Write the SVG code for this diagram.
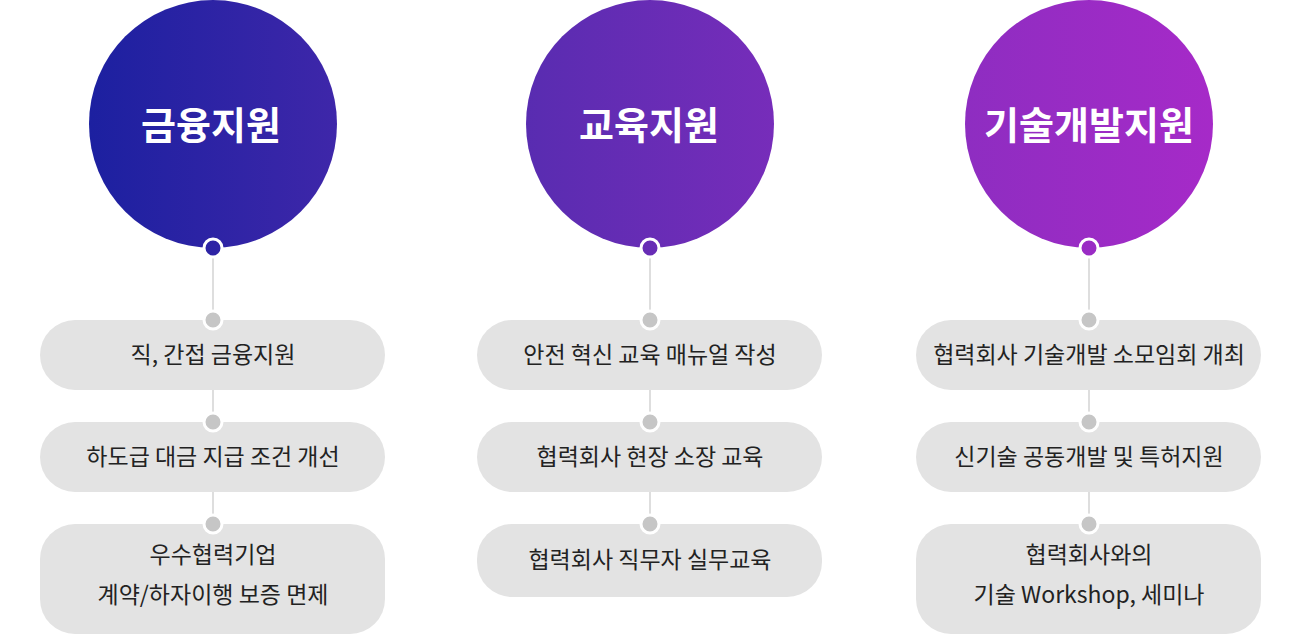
<svg xmlns="http://www.w3.org/2000/svg" width="1300" height="635" viewBox="0 0 1300 635">
<defs>
<linearGradient id="g" gradientUnits="userSpaceOnUse" x1="89" y1="0" x2="1213" y2="0">
<stop offset="0" stop-color="#1c20a0"/>
<stop offset="0.4" stop-color="#5a2cb1"/>
<stop offset="0.78" stop-color="#8e2dc1"/>
<stop offset="1" stop-color="#a62ac8"/>
</linearGradient>
<style>
.circ{fill:url(#g)}
.title{font-family:"Noto Sans CJK KR","Noto Sans",sans-serif;font-weight:700;font-size:38px;fill:#fff;text-anchor:middle}
.pill{fill:#e3e3e3}
.lbl{font-family:"Noto Sans CJK KR","Noto Sans",sans-serif;font-size:23px;fill:#222;text-anchor:middle}
.line{stroke:#c8c8c8;stroke-width:1.2;fill:none}
.hdot{fill:url(#g);stroke:#fff;stroke-width:3}
.gdot{fill:#c6c6c6;stroke:#fff;stroke-width:3}
</style>
</defs>
<g id="connectors">
<path class="line" d="M213 248V320M213 390V422M213 492V524"/>
<path class="line" d="M650 248V320M650 390V422M650 492V524"/>
<path class="line" d="M1089 248V320M1089 390V422M1089 492V524"/>
</g>
<g id="col1">
<g id="n-finance"><circle class="circ" cx="213" cy="124" r="124"/><text class="title" x="211" y="139">금융지원</text></g>
<g id="n-f1"><rect class="pill" x="40" y="320" width="345" height="70" rx="35"/><text class="lbl" x="213" y="363">직, 간접 금융지원</text></g>
<g id="n-f2"><rect class="pill" x="40" y="422" width="345" height="70" rx="35"/><text class="lbl" x="213" y="465">하도급 대금 지급 조건 개선</text></g>
<g id="n-f3"><rect class="pill" x="40" y="524" width="345" height="110" rx="35"/><text class="lbl" x="213" y="563">우수협력기업</text><text class="lbl" x="213" y="603">계약/하자이행 보증 면제</text></g>
</g>
<g id="col2">
<g id="n-edu"><circle class="circ" cx="650" cy="124" r="124"/><text class="title" x="649" y="139">교육지원</text></g>
<g id="n-e1"><rect class="pill" x="477" y="320" width="345" height="70" rx="35"/><text class="lbl" x="650" y="363">안전 혁신 교육 매뉴얼 작성</text></g>
<g id="n-e2"><rect class="pill" x="477" y="422" width="345" height="70" rx="35"/><text class="lbl" x="650" y="465">협력회사 현장 소장 교육</text></g>
<g id="n-e3"><rect class="pill" x="477" y="524" width="345" height="73" rx="35"/><text class="lbl" x="650" y="568">협력회사 직무자 실무교육</text></g>
</g>
<g id="col3">
<g id="n-tech"><circle class="circ" cx="1089" cy="124" r="124"/><text class="title" x="1089" y="139">기술개발지원</text></g>
<g id="n-t1"><rect class="pill" x="916" y="320" width="345" height="70" rx="35"/><text class="lbl" x="1089" y="363">협력회사 기술개발 소모임회 개최</text></g>
<g id="n-t2"><rect class="pill" x="916" y="422" width="345" height="70" rx="35"/><text class="lbl" x="1089" y="465">신기술 공동개발 및 특허지원</text></g>
<g id="n-t3"><rect class="pill" x="916" y="524" width="345" height="110" rx="35"/><text class="lbl" x="1089" y="563">협력회사와의</text><text class="lbl" x="1089" y="603">기술 Workshop, 세미나</text></g>
</g>
<g id="dots">
<circle class="hdot" cx="213" cy="248" r="9"/><circle class="hdot" cx="650" cy="248" r="9"/><circle class="hdot" cx="1089" cy="248" r="9"/>
<circle class="gdot" cx="213" cy="320" r="9"/><circle class="gdot" cx="213" cy="422" r="9"/><circle class="gdot" cx="213" cy="524" r="9"/>
<circle class="gdot" cx="650" cy="320" r="9"/><circle class="gdot" cx="650" cy="422" r="9"/><circle class="gdot" cx="650" cy="524" r="9"/>
<circle class="gdot" cx="1089" cy="320" r="9"/><circle class="gdot" cx="1089" cy="422" r="9"/><circle class="gdot" cx="1089" cy="524" r="9"/>
</g>
</svg>
